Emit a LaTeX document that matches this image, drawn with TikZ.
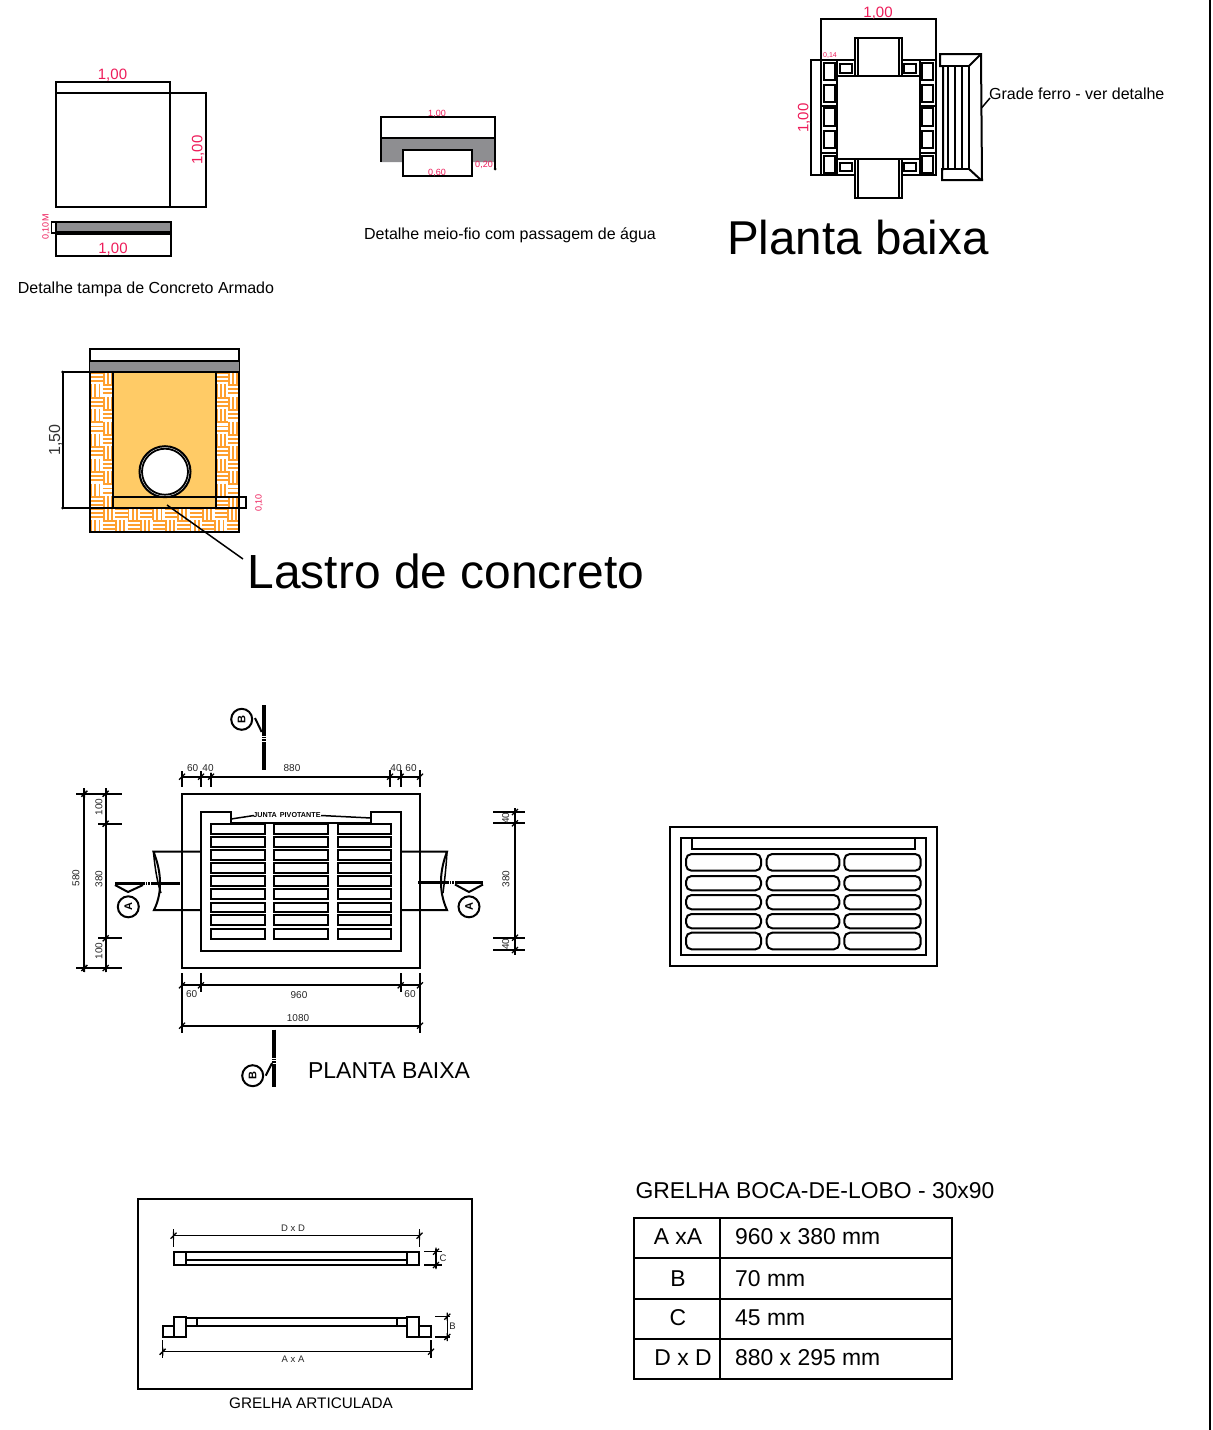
\documentclass[tikz,border=0pt]{standalone}
\usepackage{fontspec}
\setmainfont{Liberation Sans}
\definecolor{dimred}{HTML}{EE1C5A}
\definecolor{concr}{HTML}{8E8E91}
\definecolor{sandy}{HTML}{FFCB66}
\definecolor{brick}{HTML}{FF9F2E}
\newcommand{\fs}[1]{\fontsize{#1}{#1}\selectfont}
\newcommand{\tk}[2]{\draw[tickmark] ({#1-3},{#2+3}) -- ({#1+3},{#2-3}) ({#1},{#2-4}) -- ({#1},{#2+4});}
\newcommand{\bw}[4]{%
  \begin{scope}
    \clip (#1,#2) rectangle (#3,#4);
    \fill[white] (#1,#2) rectangle (#3,#4);
    \foreach \i in {0,...,12}{\foreach \j in {0,...,12}{%
      \pgfmathtruncatemacro{\pp}{mod(\i+\j,2)}%
      \pgfmathsetmacro{\xx}{#1+\i*12.4}\pgfmathsetmacro{\yy}{#2+\j*12.4}%
      \ifnum\pp=0
        \foreach \k in {0.8,4.9,9}{\draw[brick,line width=1.9pt] (\xx,{\yy+\k}) -- ({\xx+12.4},{\yy+\k});}
      \else
        \foreach \k in {0.8,4.9,9}{\draw[brick,line width=1.9pt] ({\xx+\k},\yy) -- ({\xx+\k},{\yy+12.4});}
      \fi}}
  \end{scope}}
\tikzset{
  ln/.style={draw=black,line width=2pt},
  thin ln/.style={draw=black,line width=1.5pt},
  tickmark/.style={draw=black,line width=1.3pt},
  heavy/.style={draw=black,line width=3.4pt},
  red14/.style={inner sep=0pt,text=dimred,font=\fs{15}},
  red8/.style={inner sep=0pt,text=dimred,font=\fs{9}},
  dimtxt/.style={inner sep=0pt,text=black!85,font=\fs{10}},
  smalltxt/.style={inner sep=0pt,text=black!85,font=\fs{9.5}},
  bubble/.style={circle,draw=black,line width=2pt,fill=white,minimum size=21pt,inner sep=0pt,font=\bfseries\fs{11}},
  bigtxt/.style={inner sep=0pt,text=black,font=\fs{47.5}},
  capt/.style={inner sep=0pt,text=black,font=\fs{16}},
  tabt/.style={inner sep=0pt,text=black,font=\fs{22.9}},
}
\begin{document}
\begin{tikzpicture}[x=1pt,y=-1pt]
\useasboundingbox (0,0) rectangle (1213,1430);
\fill[white] (0,0) rectangle (1213,1430);
\draw[ln] (1209.5,0) -- (1209.5,1430);

% ---- tampa
\draw[ln] (55.5,92.5) rectangle (170,207);
\draw[ln] (55.5,92.5) -- (55.5,82) -- (170,82) -- (170,92.5);
\draw[ln] (170,92.5) -- (205.5,92.5) -- (205.5,207) -- (170,207);
\node[red14] (t1) at (112.5,75) {1,00};
\node[red14,rotate=90] (t2) at (198,150) {1,00};
\fill[concr] (56,222) rectangle (171,232);
\draw[ln] (56,222) rectangle (171,232);
\draw[ln] (56,232) -- (56,256) -- (171,256) -- (171,232);
\draw[ln] (56,234) -- (171,234);
\draw[thin ln] (51.5,222) rectangle (56,233);
\node[red8,rotate=90] (t3) at (46,227) {0,10M};
\node[red14] (t4) at (113,249) {1,00};
\node[capt] (t5) at (146,289) {Detalhe tampa de Concreto Armado};

% ---- meio-fio
\fill[concr] (380.5,138) -- (495,138) -- (495,162) -- (472,162) -- (472,150) -- (403,150) -- (403,162) -- (380.5,162) -- cycle;
\draw[ln] (380.5,162) -- (380.5,117) -- (495,117) -- (495,169);
\draw[ln] (380.5,138) -- (495,138);
\draw[ln] (403,150) rectangle (472,176);
\fill (495,169) circle (1.5);
\node[red8] (t6) at (437,113.5) {1,00};
\node[red8] (t7) at (437,172.5) {0,60};
\node[red8] (t8) at (484,164.5) {0,20};
\node[capt] (t9) at (510,235) {Detalhe meio-fio com passagem de água};

% ---- planta baixa (caixa)
\draw[ln] (821,60) -- (821,19) -- (936,19) -- (936,60);
\draw[ln] (836,60) -- (811,60) -- (811,175) -- (836,175);
\node[red14] (t10) at (878,13) {1,00};
\node[red14,rotate=90] (t11) at (804,118) {1,00};
\node[inner sep=0pt,text=dimred,font=\fs{7}] (t12) at (830,55.5) {0,14};
\draw[ln] (836.5,76) rectangle (919.5,159);
\draw[ln] (855,76) -- (855,38) -- (901.5,38) -- (901.5,76);
\draw[ln] (857.5,76) -- (857.5,38) (899,38) -- (899,76);
\draw[ln] (855,159) -- (855,198) -- (901.5,198) -- (901.5,159);
\draw[ln] (857.5,159) -- (857.5,198) (899,198) -- (899,159);
\draw[ln] (821,60) rectangle (836.5,175);
\draw[ln] (919.5,60) rectangle (936,175);
\draw[ln] (836.5,60) -- (855,60) (901.5,60) -- (919.5,60);
\draw[ln] (836.5,175) -- (855,175) (901.5,175) -- (919.5,175);
\draw[line width=2.4pt] (821,106) -- (836.5,106) (919.5,106) -- (936,106);
\draw[line width=2.4pt] (821,153) -- (836.5,153) (919.5,153) -- (936,153);
\foreach \a/\b in {62.7/80,85/101.7,108/126,131/148,155.7/172.7}{
  \draw[ln] (824,\a) rectangle (834.5,\b);
  \draw[ln] (922.3,\a) rectangle (932.7,\b);
}
\foreach \xa/\xb in {840/852.3,904/916}{
  \draw[ln] (\xa,64.3) rectangle (\xb,72.7);
  \draw[ln] (\xa,162.7) rectangle (\xb,171);
}
% grade
\draw[ln] (943,66) -- (940,66) -- (940,54) -- (981,54) -- (982,180) -- (942,180) -- (942,169) -- (943,169) -- cycle;
\draw[ln] (940,66) -- (969,66) -- (969,169) -- (942,169);
\draw[ln] (969,66) -- (980,55) (969,169) -- (981,180);
\foreach \x in {948,955,962}{\draw[thin ln] (\x,66) -- (\x,169);}
\coordinate (gradeTip) at (981.5,108);
\coordinate (gradeEnd) at (990,98);
\draw[thin ln] (gradeTip) -- (gradeEnd);
\node[capt,anchor=west] (t13) at (989,94) {Grade ferro - ver detalhe};
\node[bigtxt] (t14) at (858,237.5) {Planta baixa};

% ---- corte
\fill[sandy] (113,372) rectangle (216,508);
\bw{90.5}{372}{113}{508}
\bw{216}{372}{239}{508}
\bw{90.5}{508}{239}{531.5}
\draw[ln] (90,349) rectangle (239,531.5);
\fill[concr] (90,361) rectangle (239,372);
\draw[ln] (90,361) -- (239,361);
\draw[ln] (113,372) -- (113,508) (216,372) -- (216,508);
\draw[ln] (62.7,372) -- (239,372);
\draw[ln] (62.7,372) -- (62.7,508);
\draw[ln] (62.7,508) -- (246,508) -- (246,497) -- (113,497);
\fill (62.7,372) circle (1.5) (62.7,508) circle (1.5);
\filldraw[fill=white,draw=black,line width=2pt] (165,471.7) circle (25.5);
\draw[line width=1.8pt] (165,471.7) circle (23);
\node[inner sep=0pt,text=black!80,font=\fs{16},rotate=90] (t15) at (55.5,440) {1,50};
\node[red8,rotate=90] (t16) at (259,503) {0,10};
\coordinate (lastroA) at (167,505);
\coordinate (lastroB) at (243,559);
\draw[thin ln] (lastroA) -- (lastroB);
\node[inner sep=0pt,text=black,font=\fs{47.9}] (t17) at (446,571.5) {Lastro de concreto};

% ---- planta grelha
\draw[ln] (182,793.7) rectangle (420,968);
\draw[ln] (231,823.3) -- (231,812.3) -- (201,812.3) -- (201,950.5) -- (401,950.5) -- (401,812.3) -- (371,812.3) -- (371,823.3) -- cycle;
\foreach \a/\b in {824/834,837.3/846.7,850/860,863.3/872.7,876/886,889.3/898.7,902.7/912.3,915.3/925.3,928.7/938.7}{
  \foreach \xa/\xb in {211/264.5,274.3/327.7,337.7/390.7}{
    \draw[ln,fill=white] (\xa,\a) rectangle (\xb,\b);
  }
}
\node[inner sep=0pt,font=\bfseries\fs{7.2}] (t18) at (287,815.5) {JUNTA\hspace{3pt}PIVOTANTE};
\draw[thin ln] (231,819) -- (254,815.5);
\draw[thin ln] (321,815.5) -- (371,818);
% pipes
\draw[ln] (201,851.7) -- (153.5,851.7) .. controls (160,868) and (164,890) .. (154,910) -- (201,910);
\draw[thin ln] (153.5,851.7) .. controls (155,870) and (158,885) .. (161,893);
\draw[ln] (401,851.7) -- (447,851.7) .. controls (440,870) and (438,890) .. (447,910) -- (401,910);
\draw[thin ln] (447,851.7) .. controls (446,870) and (444,885) .. (443,893);
% section marks A
\draw[heavy] (115,883.7) -- (143,883.7) (153,883.7) -- (180,883.7);
\draw[line width=3.4pt,dash pattern=on 1.5pt off 1.2pt] (143,883.7) -- (153,883.7);
\draw[ln] (115,885) -- (128,892) -- (143,885);
\node[bubble] (a1) at (128.3,906.8) {\rotatebox{90}{A}};
\draw[heavy] (418,882.7) -- (447,882.7) (457,882.7) -- (483,882.7);
\draw[line width=3.4pt,dash pattern=on 1.5pt off 1.2pt] (447,882.7) -- (457,882.7);
\draw[ln] (455,884.5) -- (469,892) -- (483,884.5);
\node[bubble] (a2) at (469,906.8) {\rotatebox{90}{A}};
% section marks B
\draw[heavy] (264,705) -- (264,734) (264,742) -- (264,770);
\draw[line width=3.4pt,dash pattern=on 1.5pt off 1.2pt] (264,734) -- (264,742);
\draw[ln] (255,718) -- (261.7,732);
\node[bubble] (b1) at (241.7,719.3) {\rotatebox{90}{B}};
\draw[heavy] (274,1029.5) -- (274,1056) (274,1064) -- (274,1086.7);
\draw[line width=3.4pt,dash pattern=on 1.5pt off 1.2pt] (274,1056) -- (274,1064);
\draw[ln] (265.7,1075.7) -- (272,1063);
\node[bubble] (b2) at (252.7,1075.7) {\rotatebox{90}{B}};
% top dims
\draw[ln] (182,776.7) -- (420,776.7);
\draw[ln] (182,771) -- (182,787.3) (201,771) -- (201,787.3) (211,773) -- (211,787.3);
\draw[ln] (390,770) -- (390,786.7) (400.7,770) -- (400.7,786.7) (420,770) -- (420,786.7);
\foreach \x in {182,201,211,390,400.7,420}{\tk{\x}{776.7}}
\node[dimtxt] (d1) at (192.7,768) {60};
\node[dimtxt] (d2) at (208,768) {40};
\node[dimtxt] (d3) at (292,768) {880};
\node[dimtxt] (d4) at (396,768) {40};
\node[dimtxt] (d5) at (411,768) {60};
% left dims
\draw[ln] (84.4,788) -- (84.4,972) (105.7,788) -- (105.7,972);
\draw[ln] (76,793.7) -- (121.7,793.7) (76,968) -- (121.7,968);
\draw[ln] (98,823.7) -- (121.7,823.7) (98,938.3) -- (121.7,938.3);
\foreach \y in {793.7,968}{\tk{84.4}{\y}\tk{105.7}{\y}}
\foreach \y in {823.7,938.3}{\tk{105.7}{\y}}
\node[dimtxt,rotate=90] (d6) at (76,878) {580};
\node[dimtxt,rotate=90] (d7) at (99,807) {100};
\node[dimtxt,rotate=90] (d8) at (99,879) {380};
\node[dimtxt,rotate=90] (d9) at (99,951) {100};
% right dims
\draw[ln] (515,808) -- (515,955);
\draw[ln] (493.3,812) -- (525,812) (493.3,823.3) -- (525,823.3) (493.3,937.7) -- (525,937.7) (493.3,950) -- (525,950);
\foreach \y in {812,823.3,937.7,950}{\tk{515}{\y}}
\node[dimtxt,rotate=90] (d10) at (505.7,818) {40};
\node[dimtxt,rotate=90] (d11) at (506,879) {380};
\node[dimtxt,rotate=90] (d12) at (505.7,944) {40};
% bottom dims
\draw[ln] (182,985.3) -- (420,985.3);
\draw[ln] (182,1025.7) -- (420,1025.7);
\draw[ln] (182,973) -- (182,1033) (420,973) -- (420,1033);
\draw[ln] (201,973) -- (201,992) (400.7,973) -- (400.7,992);
\foreach \x in {182,201,400.7,420}{\tk{\x}{985.3}}
\foreach \x in {182,420}{\tk{\x}{1025.7}}
\node[dimtxt] (d13) at (191.7,994) {60};
\node[dimtxt] (d14) at (299,995) {960};
\node[dimtxt] (d15) at (410,994) {60};
\node[dimtxt] (d16) at (298,1018) {1080};
\node[inner sep=0pt,text=black,font=\fs{23}] (t19) at (389,1070.5) {PLANTA BAIXA};

% ---- grelha vista
\draw[ln] (670,826.7) rectangle (936.7,966);
\draw[ln] (680.7,838) rectangle (926,955);
\draw[ln] (692.3,838) -- (692.3,849) -- (914.5,849) -- (914.5,838);
\foreach \a/\b in {854/870.7,876/890.3,895/909.3,914/928.3,932.7/949.3}{
  \foreach \xa/\xb in {686/761,766.7/839.3,844.3/920.7}{
    \draw[ln,rounded corners=5.5pt] (\xa,\a) rectangle (\xb,\b);
  }
}

% ---- grelha articulada
\draw[ln] (138.3,1199) rectangle (471.7,1388.7);
\draw[thin ln] (173.5,1235.7) -- (419.5,1235.7);
\draw[thin ln] (173.5,1229) -- (173.5,1246.7) (419.5,1229) -- (419.5,1246.7);
\tk{173.5}{1235.7}\tk{419.5}{1235.7}
\node[smalltxt] (g1) at (293,1228) {D x D};
\draw[ln] (173.7,1251.7) rectangle (419.3,1265);
\draw[ln] (185.7,1251.7) -- (185.7,1265) (407.3,1251.7) -- (407.3,1265);
\draw[ln] (185.7,1259.7) -- (407.3,1259.7);
\draw[thin ln] (424,1251.7) -- (441.7,1251.7) (424,1265) -- (441.7,1265);
\draw[thin ln] (436,1249) -- (436,1268);
\tk{436}{1251.7}\tk{436}{1265}
\node[smalltxt] (g2) at (443,1258) {C};
\draw[ln] (185.7,1317.7) rectangle (407.3,1326);
\draw[ln] (174,1317) rectangle (185.7,1337);
\draw[ln] (162.7,1326) rectangle (174,1337);
\draw[ln] (185.7,1317.7) rectangle (196.7,1326);
\draw[ln] (407.3,1317) rectangle (419,1337);
\draw[ln] (419,1326) rectangle (431,1337);
\draw[ln] (396.7,1317.7) rectangle (407.3,1326);
\draw[thin ln] (435,1316.7) -- (450,1316.7) (435,1337) -- (450,1337);
\draw[thin ln] (447.3,1314) -- (447.3,1340);
\tk{447.3}{1316.7}\tk{447.3}{1337}
\node[smalltxt] (g3) at (452.5,1326) {B};
\draw[thin ln] (162.7,1351.7) -- (431,1351.7);
\draw[thin ln] (162.7,1340) -- (162.7,1358) (431,1340) -- (431,1358);
\tk{162.7}{1351.7}\tk{431}{1351.7}
\node[smalltxt] (g4) at (293,1359) {A x A};
\node[inner sep=0pt,text=black,font=\fs{15.3}] (g5) at (311,1403.5) {GRELHA ARTICULADA};

% ---- tabela
\node[tabt] (h0) at (815,1190.5) {GRELHA BOCA-DE-LOBO - 30x90};
\draw[ln] (634,1218) rectangle (952,1379);
\draw[ln] (720,1218) -- (720,1379);
\draw[ln] (634,1258) -- (952,1258) (634,1299) -- (952,1299) (634,1339) -- (952,1339);
\node[tabt] (r1) at (678,1237) {A xA};
\node[tabt] (r2) at (678,1279) {B};
\node[tabt] (r3) at (678,1318) {C};
\node[tabt] (r4) at (683,1358) {D x D};
\node[tabt,anchor=west] (s1) at (735,1237) {960 x 380 mm};
\node[tabt,anchor=west] (s2) at (735,1279) {70 mm};
\node[tabt,anchor=west] (s3) at (735,1318) {45 mm};
\node[tabt,anchor=west] (s4) at (735,1358) {880 x 295 mm};
\end{tikzpicture}
\end{document}
